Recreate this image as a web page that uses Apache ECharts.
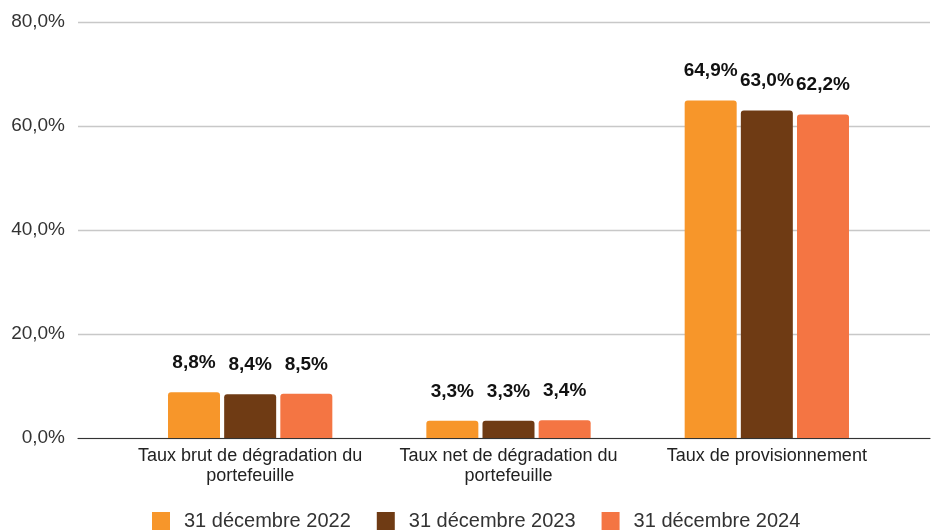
<!DOCTYPE html>
<html>
<head>
<meta charset="utf-8">
<script src="https://cdn.jsdelivr.net/npm/echarts@6/dist/echarts.min.js"></script>
<style>
  html, body { margin: 0; padding: 0; background: #fff; }
  #chart { width: 931px; height: 530px; }
</style>
</head>
<body>
<div id="chart"></div>
<script>
// Indicateurs de qualité du portefeuille (en %)
const categories = [
  'Taux brut de dégradation du\nportefeuille',
  'Taux net de dégradation du\nportefeuille',
  'Taux de provisionnement'
];
const seriesNames = ['31 décembre 2022', '31 décembre 2023', '31 décembre 2024'];
const values2022 = [8.8, 3.3, 64.9];
const values2023 = [8.4, 3.3, 63.0];
const values2024 = [8.5, 3.4, 62.2];
const yTicks = { min: 0, max: 80, interval: 20 };
const colors = ['#F7962A', '#6F3B14', '#F47543'];

const FONT = '"Liberation Sans", Arial, sans-serif';
const pct = v => Number(v).toFixed(1).replace('.', ',') + '%';

const chart = echarts.init(document.getElementById('chart'), null, { renderer: 'canvas' });

const makeSeries = (name, data, color) => ({
  name: name,
  type: 'bar',
  xAxisIndex: 1,
  yAxisIndex: 1,
  data: data,
  barWidth: 52,
  barGap: '8%',
  itemStyle: { color: color, borderRadius: [3, 3, 0, 0] },
  label: {
    show: true,
    position: 'top',
    distance: 20,
    formatter: p => pct(p.value),
    fontFamily: FONT,
    fontWeight: 'bold',
    fontSize: 19,
    color: '#111'
  }
});

chart.setOption({
  animation: false,
  color: colors,
  textStyle: { fontFamily: FONT },
  grid: [
    // full-width grid carrying the value scale and gridlines
    { left: 78, right: 1, top: 22, bottom: 92 },
    // inner grid holding the category bands and bars
    { left: 121, right: 35, top: 22, bottom: 92 }
  ],
  xAxis: [
    {
      gridIndex: 0, type: 'value', min: 0, max: 1,
      axisLine: { show: true, lineStyle: { color: '#333', width: 1.2 } },
      axisTick: { show: false }, axisLabel: { show: false }, splitLine: { show: false }
    },
    {
      gridIndex: 1, type: 'category', data: categories,
      axisLine: { show: false }, axisTick: { show: false },
      axisLabel: {
        fontFamily: FONT, fontSize: 18, color: '#222', lineHeight: 20, margin: 8,
        interval: 0
      }
    }
  ],
  yAxis: [
    {
      gridIndex: 0, type: 'value', min: yTicks.min, max: yTicks.max, interval: yTicks.interval,
      axisLine: { show: false }, axisTick: { show: false },
      axisLabel: { formatter: v => pct(v), fontFamily: FONT, fontSize: 19, color: '#333', margin: 13 },
      splitLine: { lineStyle: { color: '#c8c8c8', width: 1.3 } }
    },
    {
      gridIndex: 1, type: 'value', min: yTicks.min, max: yTicks.max, interval: yTicks.interval,
      show: false, splitLine: { show: false }
    }
  ],
  legend: {
    data: seriesNames,
    left: 147,
    top: 506,
    itemWidth: 18,
    itemHeight: 18,
    itemGap: 26,
    icon: 'rect',
    textStyle: { fontFamily: FONT, fontSize: 20, color: '#333', padding: [0, 0, 0, 9] }
  },
  series: [
    makeSeries(seriesNames[0], values2022, colors[0]),
    makeSeries(seriesNames[1], values2023, colors[1]),
    makeSeries(seriesNames[2], values2024, colors[2])
  ]
});
</script>
</body>
</html>
